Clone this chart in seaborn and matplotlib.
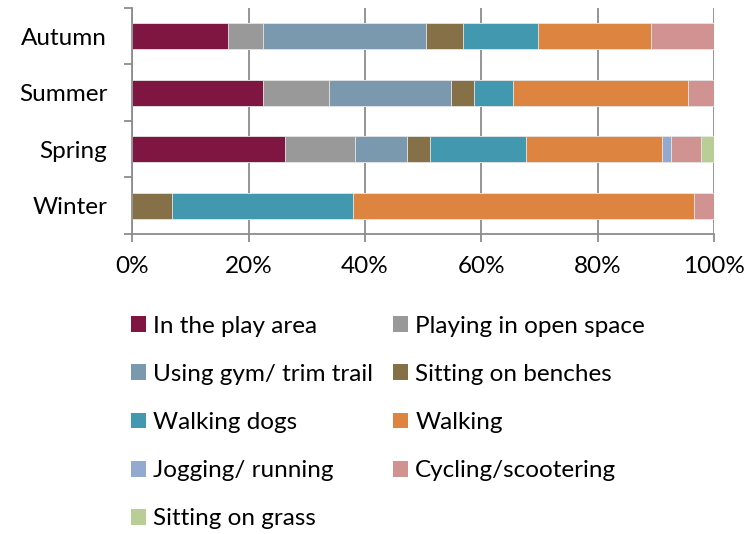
import matplotlib
matplotlib.use("Agg")
import matplotlib.pyplot as plt
from matplotlib.patches import Patch
import numpy as np
import pandas as pd
import seaborn as sns

seasons = ["Autumn", "Summer", "Spring", "Winter"]
activities = ["In the play area", "Playing in open space", "Using gym/ trim trail",
              "Sitting on benches", "Walking dogs", "Walking",
              "Jogging/ running", "Cycling/scootering", "Sitting on grass"]
colors = ["#7F1541", "#999999", "#7A99AE", "#857048", "#4298AF",
          "#DC8440", "#93A9CF", "#D19392", "#B9CD96"]

# percent share per season, same order as activities
autumn = [16.4, 6.0, 28.0, 6.5, 12.8, 19.5, 0.0, 10.8, 0.0]
summer = [22.5, 11.3, 21.0, 3.9, 6.7, 30.1, 0.0, 4.5, 0.0]
spring = [26.2, 12.1, 9.0, 3.8, 16.6, 23.3, 1.6, 5.1, 2.3]
winter = [0.0, 0.0, 0.0, 6.9, 31.0, 58.6, 0.0, 3.5, 0.0]

df = pd.DataFrame([autumn, summer, spring, winter], index=seasons, columns=activities)
cum = df.cumsum(axis=1)

sns.set_style("white")
plt.rcParams['font.family'] = ['Lato', 'DejaVu Sans']
plt.rcParams['text.color'] = 'black'
plt.rcParams['xtick.color'] = 'black'
plt.rcParams['ytick.color'] = 'black'

fs = 17.5

fig = plt.figure(figsize=(7.47, 5.34), dpi=100)
ax = fig.add_axes([0.177, 0.562, 0.779, 0.423])

# draw from the full stack down so the shorter cumulative bars sit on top
for i in range(len(activities) - 1, -1, -1):
    d = pd.DataFrame({"season": seasons, "value": cum[activities[i]].values})
    sns.barplot(data=d, x="value", y="season", order=seasons, color=colors[i],
                width=0.46, saturation=1, edgecolor="#e8e8e8", linewidth=0.6, ax=ax)

ax.set_xlim(0, 100)
ax.set_ylim(3.5, -0.5)
ax.set_xticks(np.arange(0, 101, 20))
ax.set_xticklabels([f"{v}%" for v in range(0, 101, 20)])
ax.set_xlabel("")
ax.set_ylabel("")
ax.xaxis.grid(True, color="#8c8c8c", linewidth=1.3)
ax.set_axisbelow(True)
for s in ["top", "right"]:
    ax.spines[s].set_visible(False)
for s in ["left", "bottom"]:
    ax.spines[s].set_color("#8c8c8c")
    ax.spines[s].set_linewidth(1.3)

ax.tick_params(axis="x", direction="out", length=6, width=1.3, color="#8c8c8c",
               pad=10, labelsize=fs, bottom=True)
ax.set_yticks(np.arange(-0.5, 3.6, 1), minor=True)
ax.tick_params(axis="y", which="major", length=0, pad=18, labelsize=fs)
ax.tick_params(axis="y", which="minor", direction="out", length=6, width=1.3,
               color="#8c8c8c", left=True)

# legend filled row by row, as in the reference
order = [0, 2, 4, 6, 8, 1, 3, 5, 7]
handles = [Patch(facecolor=colors[k], edgecolor="none") for k in order]
labels = [activities[k] for k in order]
fig.legend(handles, labels, ncol=2, loc="upper left", bbox_to_anchor=(0.175, 0.409),
           frameon=False, fontsize=fs, handlelength=0.62, handleheight=0.62,
           handletextpad=0.28, labelspacing=1.12, columnspacing=0.85, borderaxespad=0,
           borderpad=0)

fig.savefig("out.png", dpi=100)
